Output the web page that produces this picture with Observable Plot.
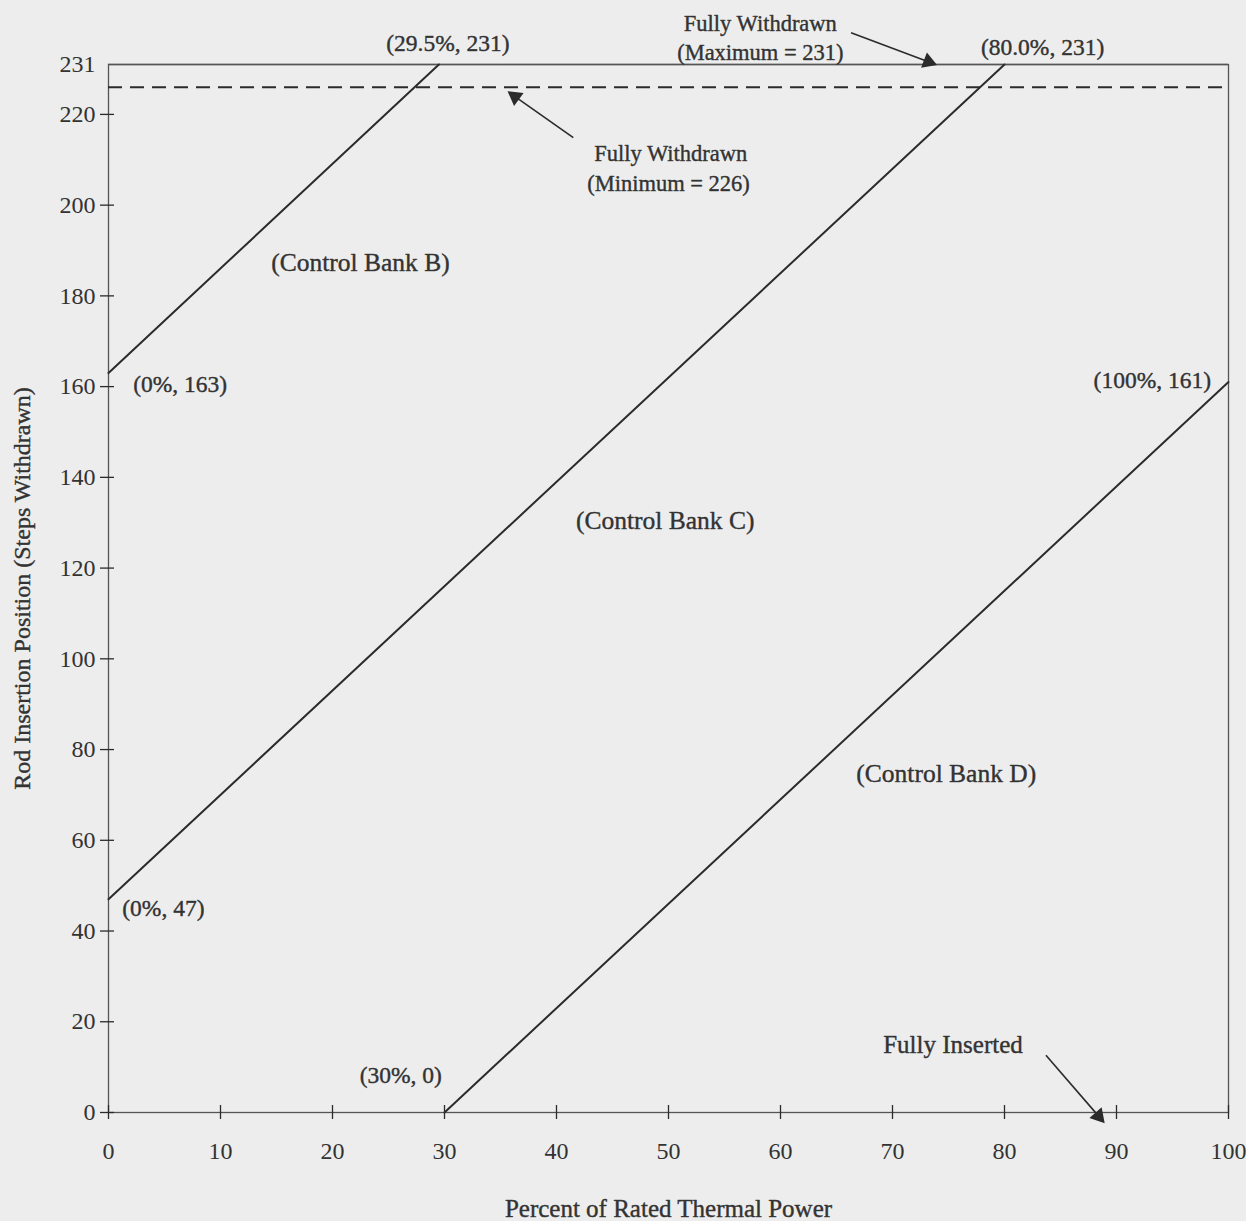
<!DOCTYPE html>
<html>
<head>
<meta charset="utf-8">
<script src="https://cdn.jsdelivr.net/npm/d3@7"></script>
<script src="https://cdn.jsdelivr.net/npm/@observablehq/plot@0.6"></script>
<style>
  html, body { margin: 0; padding: 0; background: #ededed; }
  #chart svg { display: block; }
</style>
</head>
<body>
<div id="chart"></div>
<script>
// Data
const bankBPower = [0, 29.5];
const bankBSteps = [163, 231];
const bankCPower = [0, 80.0];
const bankCSteps = [47, 231];
const bankDPower = [30, 100];
const bankDSteps = [0, 161];
const fullyWithdrawnMax = 231;
const fullyWithdrawnMin = 226;

const xTicks = [0, 10, 20, 30, 40, 50, 60, 70, 80, 90, 100];
const yTicks = [0, 20, 40, 60, 80, 100, 120, 140, 160, 180, 200, 220];
const yTickLabels = [0, 20, 40, 60, 80, 100, 120, 140, 160, 180, 200, 220, 231];

const xLabel = "Percent of Rated Thermal Power";
const yLabel = "Rod Insertion Position (Steps Withdrawn)";

// annotation texts and positions (data units)
const noteText = ["(29.5%, 231)", "Fully Withdrawn", "(Maximum = 231)", "(80.0%, 231)",
  "Fully Withdrawn", "(Minimum = 226)", "(Control Bank B)", "(0%, 163)", "(100%, 161)",
  "(Control Bank C)", "(Control Bank D)", "(0%, 47)", "Fully Inserted", "(30%, 0)"];
const noteX = [30.3, 58.2, 58.2, 83.4, 50.2, 50.0, 22.5, 6.4, 93.2, 49.7, 74.8, 4.9, 75.4, 26.1];
const noteY = [235.6, 240.0, 233.6, 234.8, 211.4, 204.6, 187.3, 160.5, 161.3, 130.5, 74.7, 45.0, 14.8, 8.2];
const noteSize = [23.5, 22.5, 22.5, 23.5, 22.5, 22.5, 25.5, 23.5, 23.5, 25.5, 25.5, 23.5, 25, 23.5];

// arrows: start and tip (data units), head rotation (deg)
const arrowX1 = [66.3, 41.5, 83.7];
const arrowY1 = [238.0, 214.9, 12.6];
const arrowX2 = [73.2, 36.3, 88.4];
const arrowY2 = [231.6, 223.9, -0.8];
const arrowRot = [111, -54, 139];

const lines = [
  ...bankBPower.map((p, i) => ({bank: "B", x: p, y: bankBSteps[i]})),
  ...bankCPower.map((p, i) => ({bank: "C", x: p, y: bankCSteps[i]})),
  ...bankDPower.map((p, i) => ({bank: "D", x: p, y: bankDSteps[i]}))
];
const notes = noteText.map((t, i) => ({t, x: noteX[i], y: noteY[i], s: noteSize[i]}));
const arrows = arrowX1.map((x1, i) => ({x1, y1: arrowY1[i], x2: arrowX2[i], y2: arrowY2[i], r: arrowRot[i]}));

const ink = "#2b2b2b";
const textInk = "#333333";
const font = "'Liberation Serif', 'Times New Roman', serif";
const heavy = {stroke: textInk, strokeWidth: 0.45, strokeOpacity: 0.9};

const chart = Plot.plot({
  width: 1246,
  height: 1221,
  marginLeft: 108,
  marginRight: 18,
  marginTop: 64,
  marginBottom: 109,
  style: {background: "#ededed", fontFamily: font, color: textInk},
  x: {domain: [0, 100]},
  y: {domain: [0, 231]},
  marks: [
    Plot.frame({stroke: "#555", strokeWidth: 1.3}),
    // ticks crossing axes
    Plot.axisY(yTicks, {tickSize: 14, dx: 6, tickFormat: () => "", stroke: ink, strokeWidth: 1.3, label: null}),
    Plot.axisX(xTicks, {tickSize: 14, dy: -7, tickFormat: () => "", stroke: ink, strokeWidth: 1.3, label: null}),
    // tick labels
    Plot.axisY(yTickLabels, {tickSize: 0, tickPadding: 13, fontSize: 24, fill: textInk, ...heavy, label: null}),
    Plot.axisX(xTicks, {tickSize: 0, tickPadding: 29, fontSize: 24, fill: textInk, ...heavy, label: null}),
    // axis titles
    Plot.text([yLabel], {frameAnchor: "left", rotate: -90, dx: -86, textAnchor: "middle", lineAnchor: "middle", fontSize: 24, fill: textInk, ...heavy}),
    Plot.text([xLabel], {frameAnchor: "bottom", dy: 96, textAnchor: "middle", lineAnchor: "middle", fontSize: 25, fill: textInk, ...heavy}),
    // limits
    Plot.ruleY([fullyWithdrawnMin], {stroke: ink, strokeWidth: 2, strokeDasharray: "14,8"}),
    Plot.ruleY([fullyWithdrawnMax], {stroke: "#555", strokeWidth: 1.3}),
    // control banks
    Plot.line(lines, {x: "x", y: "y", z: "bank", stroke: ink, strokeWidth: 2}),
    // annotations
    Plot.text(notes, {x: "x", y: "y", text: "t", fontSize: d => d.s, fill: textInk, ...heavy}),
    Plot.link(arrows, {x1: "x1", y1: "y1", x2: "x2", y2: "y2", stroke: ink, strokeWidth: 1.6}),
    Plot.dot(arrows, {x: "x2", y: "y2", symbol: "triangle", r: 6, rotate: "r", fill: ink, stroke: "none"})
  ]
});
document.getElementById("chart").appendChild(chart);
</script>
</body>
</html>
